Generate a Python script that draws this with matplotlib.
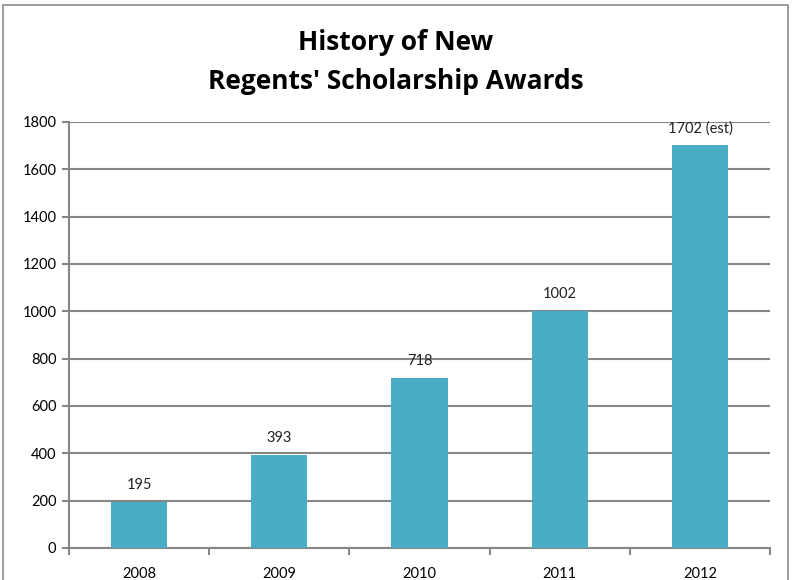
import matplotlib
matplotlib.use("Agg")
import numpy as np
import matplotlib.pyplot as plt
from matplotlib.patches import Rectangle

years = ['2008', '2009', '2010', '2011', '2012']
awards = [195, 393, 718, 1002, 1702]
bar_labels = ['195', '393', '718', '1002', '1702 (est)']
y_ticks = [0, 200, 400, 600, 800, 1000, 1200, 1400, 1600, 1800]

plt.rcParams['font.family'] = ['Lato', 'DejaVu Sans']
grey = '#878787'
bar_color = '#4BACC6'

fig = plt.figure(figsize=(7.92, 5.80), dpi=100)
fig.patches.append(Rectangle((0.004, -0.02), 0.991, 1.011, transform=fig.transFigure,
                             fill=False, edgecolor='#8c8c8c', linewidth=1.2))
ax = fig.add_axes([0.0871, 0.0552, 0.8852, 0.7345])

x = np.arange(len(years))
bars = ax.bar(x, awards, width=0.4, color=bar_color, zorder=3)
for b, lab in zip(bars, bar_labels):
    ax.annotate(lab, (b.get_x() + b.get_width() / 2, b.get_height()),
                xytext=(0, 7), textcoords='offset points', ha='center', va='bottom',
                fontsize=10.5, color='#222222')

ax.set_xlim(-0.5, len(years) - 0.5)
ax.set_ylim(0, 1800)
ax.set_yticks(y_ticks)
ax.set_yticklabels([str(v) for v in y_ticks])
ax.yaxis.grid(True, color=grey, linewidth=1.5, zorder=0)

ax.set_xticks(np.arange(-0.5, len(years), 1.0))
ax.set_xticklabels([])
ax.set_xticks(x, minor=True)
ax.set_xticklabels(years, minor=True)
ax.tick_params(axis='x', which='minor', length=0, pad=14, labelsize=10.5)
ax.tick_params(axis='x', which='major', length=5, width=1.5, color=grey)
ax.tick_params(axis='y', length=5, width=1.5, color=grey, labelsize=10.5, pad=4)

for s in ['top', 'right']:
    ax.spines[s].set_visible(False)
for s in ['left', 'bottom']:
    ax.spines[s].set_color(grey)
    ax.spines[s].set_linewidth(1.5)

title_font = ['Open Sans', 'DejaVu Sans']
fig.text(0.5, 0.926, 'History of New', ha='center', va='center',
         fontsize=19, fontweight='bold', family=title_font)
fig.text(0.5, 0.860, "Regents' Scholarship Awards", ha='center', va='center',
         fontsize=19, fontweight='bold', family=title_font)

fig.savefig('out.png', dpi=100)
